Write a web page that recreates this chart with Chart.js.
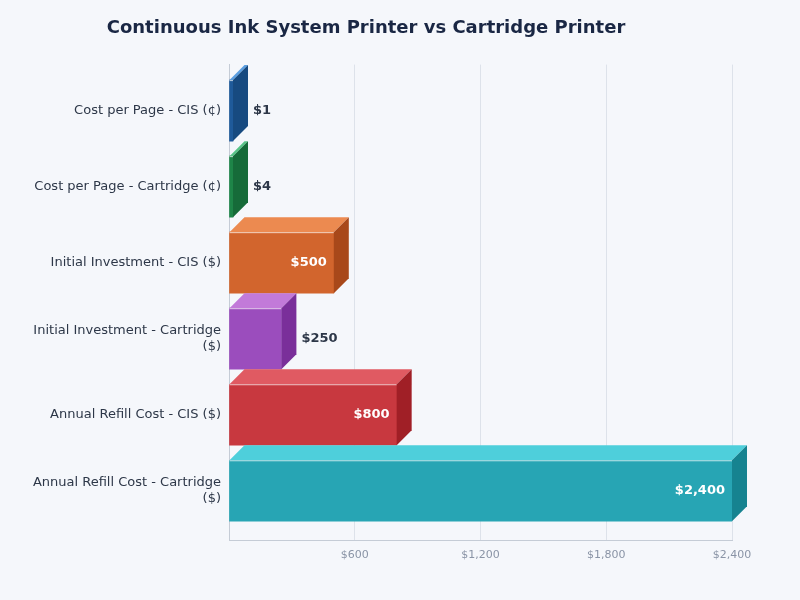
<!DOCTYPE html>
<html>
<head>
<meta charset="utf-8">
<script src="https://cdn.jsdelivr.net/npm/chart.js@4.4.1/dist/chart.umd.min.js"></script>
<style>
  html, body { margin: 0; padding: 0; background: #f5f7fb; }
  #wrap { width: 800px; height: 600px; }
</style>
</head>
<body>
<div id="wrap"><canvas id="c" width="800" height="600"></canvas></div>
<script>
const categories = [
  'Cost per Page - CIS (¢)',
  'Cost per Page - Cartridge (¢)',
  'Initial Investment - CIS ($)',
  ['Initial Investment - Cartridge', '($)'],
  'Annual Refill Cost - CIS ($)',
  ['Annual Refill Cost - Cartridge', '($)']
];
const values = [1, 4, 500, 250, 800, 2400];
const xTickValues = [0, 600, 1200, 1800, 2400];
const frontColors = ['#1f5a9a', '#1e8548', '#d2652d', '#9b4dbd', '#c8383f', '#27a5b4'];
const topColors   = ['#5a9ee0', '#58c487', '#ec8a50', '#c27ad9', '#e05a62', '#4ecfdb'];
const sideColors  = ['#174a80', '#166b39', '#a8481a', '#7a2f9a', '#a01f26', '#168390'];

const DEPTH = 15;

const bgPlugin = {
  id: 'bg',
  beforeDraw(chart) {
    const ctx = chart.ctx;
    ctx.save();
    ctx.fillStyle = '#f5f7fb';
    ctx.fillRect(0, 0, chart.width, chart.height);
    ctx.restore();
  }
};

const threeD = {
  id: 'threeD',
  afterDatasetsDraw(chart) {
    const ctx = chart.ctx;
    const meta = chart.getDatasetMeta(0);
    meta.data.forEach((bar, i) => {
      const p = bar.getProps(['x', 'y', 'base', 'height'], true);
      const top = p.y - p.height / 2;
      const bottom = p.y + p.height / 2;
      const left = p.base;
      const right = p.x;
      ctx.save();
      ctx.fillStyle = topColors[i];
      ctx.beginPath();
      ctx.moveTo(left, top);
      ctx.lineTo(left + DEPTH, top - DEPTH);
      ctx.lineTo(right + DEPTH, top - DEPTH);
      ctx.lineTo(right, top);
      ctx.closePath();
      ctx.fill();
      ctx.fillStyle = sideColors[i];
      ctx.beginPath();
      ctx.moveTo(right, top);
      ctx.lineTo(right + DEPTH, top - DEPTH);
      ctx.lineTo(right + DEPTH, bottom - DEPTH);
      ctx.lineTo(right, bottom);
      ctx.closePath();
      ctx.fill();
      ctx.strokeStyle = 'rgba(255,255,255,0.7)';
      ctx.lineWidth = 1;
      ctx.beginPath();
      ctx.moveTo(left, top + 0.5);
      ctx.lineTo(right, top + 0.5);
      ctx.stroke();
      const txt = '$' + values[i].toLocaleString('en-US');
      ctx.font = 'bold 13px "DejaVu Sans"';
      ctx.textBaseline = 'middle';
      if (right - left > 60) {
        ctx.fillStyle = '#ffffff';
        ctx.textAlign = 'right';
        ctx.fillText(txt, right - 7, p.y);
      } else {
        ctx.fillStyle = '#2d3748';
        ctx.textAlign = 'left';
        ctx.fillText(txt, right + DEPTH + 5, p.y);
      }
      ctx.restore();
    });
  }
};

new Chart(document.getElementById('c'), {
  type: 'bar',
  data: {
    datasets: [{
      data: values.map((v, i) => ({ x: v, y: i })),
      backgroundColor: frontColors,
      borderWidth: 0,
      barThickness: 61,
      minBarLength: 4
    }]
  },
  options: {
    indexAxis: 'y',
    responsive: false,
    animation: false,
    layout: { padding: { left: 0, right: 68, top: 0, bottom: 30 } },
    plugins: {
      legend: { display: false },
      tooltip: { enabled: false },
      title: {
        display: true,
        text: 'Continuous Ink System Printer vs Cartridge Printer',
        color: '#1a2744',
        font: { family: 'DejaVu Sans', size: 18, weight: 'bold' },
        padding: { top: 18, bottom: 25 }
      }
    },
    scales: {
      x: {
        type: 'linear',
        min: 0,
        max: 2400,
        afterBuildTicks(axis) { axis.ticks = xTickValues.map(v => ({ value: v })); },
        grid: { color: '#dde2ea', drawTicks: false },
        border: { color: '#c5ccd6', width: 1 },
        ticks: {
          padding: 8,
          color: '#8a94a6',
          font: { family: 'DejaVu Sans', size: 11 },
          callback: (v) => v === 0 ? '' : '$' + Number(v).toLocaleString('en-US')
        }
      },
      y: {
        type: 'linear',
        reverse: true,
        offset: false,
        min: -0.605,
        max: 5.658,
        afterBuildTicks(axis) { axis.ticks = categories.map((_, i) => ({ value: i })); },
        afterFit(axis) { axis.width = 229; },
        grid: { display: false, drawTicks: false, offset: false },
        border: { color: '#c5ccd6', width: 1 },
        ticks: {
          padding: 8,
          autoSkip: false,
          color: '#2d3748',
          font: { family: 'DejaVu Sans', size: 13 },
          callback: (v) => categories[v]
        }
      }
    }
  },
  plugins: [bgPlugin, threeD]
});
</script>
</body>
</html>
